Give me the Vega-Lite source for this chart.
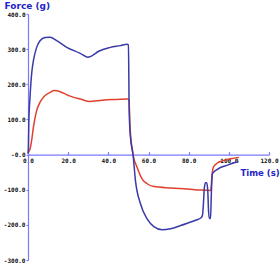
{
  "$schema": "https://vega.github.io/schema/vega-lite/v6.json",
  "width": 241,
  "height": 246,
  "autosize": "none",
  "padding": {"left": 28, "top": 14, "right": 11, "bottom": 8},
  "background": "white",
  "config": {"view": {"stroke": null}, "axis": {"labelOverlap": false}},
  "datasets": {
    "blue": [
      {"t": 0.0, "v": 3}, {"t": 0.2, "v": 20}, {"t": 0.4, "v": 90}, {"t": 1.0, "v": 163}, {"t": 1.8, "v": 229},
      {"t": 2.7, "v": 267}, {"t": 4.3, "v": 305}, {"t": 6.0, "v": 324}, {"t": 8.5, "v": 333},
      {"t": 11.0, "v": 334}, {"t": 14.3, "v": 324}, {"t": 19.3, "v": 305}, {"t": 26.0, "v": 288},
      {"t": 29.7, "v": 277}, {"t": 31.8, "v": 281}, {"t": 35.2, "v": 294}, {"t": 41.0, "v": 305},
      {"t": 46.0, "v": 310}, {"t": 49.3, "v": 314}, {"t": 50.0, "v": 312}, {"t": 50.4, "v": 120},
      {"t": 51.0, "v": 50}, {"t": 52.3, "v": 0}, {"t": 53.5, "v": -74}, {"t": 56.0, "v": -140},
      {"t": 59.3, "v": -183}, {"t": 62.7, "v": -205}, {"t": 66.8, "v": -214}, {"t": 71.0, "v": -211},
      {"t": 76.0, "v": -202}, {"t": 81.0, "v": -192}, {"t": 83.5, "v": -187}, {"t": 86.3, "v": -179},
      {"t": 86.9, "v": -172}, {"t": 87.4, "v": -135}, {"t": 87.8, "v": -95}, {"t": 88.4, "v": -80},
      {"t": 89.0, "v": -80}, {"t": 89.5, "v": -102}, {"t": 89.9, "v": -160}, {"t": 90.3, "v": -182},
      {"t": 90.9, "v": -182}, {"t": 91.3, "v": -110}, {"t": 91.8, "v": -55}, {"t": 94.3, "v": -42},
      {"t": 99.3, "v": -30}, {"t": 103.5, "v": -22}, {"t": 104.8, "v": -20}
    ],
    "red": [
      {"t": 0.0, "v": 5}, {"t": 0.5, "v": 10}, {"t": 1.0, "v": 16}, {"t": 1.8, "v": 40}, {"t": 2.7, "v": 78},
      {"t": 4.3, "v": 125}, {"t": 6.0, "v": 149}, {"t": 8.5, "v": 168}, {"t": 11.0, "v": 177},
      {"t": 13.0, "v": 182}, {"t": 16.0, "v": 179}, {"t": 19.3, "v": 170}, {"t": 26.0, "v": 158},
      {"t": 31.0, "v": 151}, {"t": 34.3, "v": 153}, {"t": 39.3, "v": 156}, {"t": 44.3, "v": 157},
      {"t": 49.3, "v": 158}, {"t": 50.3, "v": 157}, {"t": 50.8, "v": 80}, {"t": 52.3, "v": 0},
      {"t": 54.3, "v": -36}, {"t": 56.8, "v": -69}, {"t": 59.3, "v": -83}, {"t": 62.7, "v": -91},
      {"t": 71.0, "v": -95}, {"t": 79.3, "v": -98}, {"t": 86.0, "v": -101}, {"t": 91.0, "v": -102},
      {"t": 91.6, "v": -60}, {"t": 92.3, "v": -36}, {"t": 94.3, "v": -24}, {"t": 96.8, "v": -18},
      {"t": 101.0, "v": -12}, {"t": 105.0, "v": -8}
    ]
  },
  "encoding": {
    "x": {
      "field": "t", "type": "quantitative",
      "scale": {"domain": [0, 120], "nice": false, "zero": false},
      "axis": {
        "values": [0, 20, 40, 60, 80, 100, 120],
        "offset": -105.4,
        "domainColor": "#7a7aff", "domainWidth": 1.2,
        "tickColor": "#7a7aff", "tickSize": -3, "tickWidth": 1.2,
        "grid": false, "labelOverlap": false,
        "labelExpr": "format(datum.value, '.1f')",
        "labelFont": "DejaVu Sans Mono", "labelFontSize": 6, "labelFontWeight": "bold",
        "labelColor": "#111111", "labelPadding": 6, "labelFlush": false,
        "title": "Time  (s)",
        "titleFont": "DejaVu Sans", "titleFontSize": 8.5, "titleFontWeight": "bold",
        "titleColor": "#2424c8", "titleAlign": "left", "titleBaseline": "middle",
        "titleX": 212, "titleY": 18
      }
    },
    "y": {
      "field": "v", "type": "quantitative",
      "scale": {"domain": [-300, 400], "nice": false, "zero": false},
      "axis": {
        "values": [-300, -200, -100, 0, 100, 200, 300, 400],
        "domainColor": "#7a7aff", "domainWidth": 1.2,
        "tickColor": "#7a7aff", "tickSize": 2, "tickWidth": 1.2,
        "grid": false, "labelOverlap": false,
        "labelExpr": "datum.value == 0 ? '-0.0' : replace(format(datum.value, '.1f'), '\u2212', '-')",
        "labelFont": "DejaVu Sans Mono", "labelFontSize": 6, "labelFontWeight": "bold",
        "labelColor": "#111111", "labelPadding": 1, "labelFlush": false,
        "title": "Force (g)",
        "titleFont": "DejaVu Sans", "titleFontSize": 9, "titleFontWeight": "bold",
        "titleColor": "#2424c8", "titleAngle": 0, "titleAlign": "left", "titleBaseline": "middle",
        "titleX": -24, "titleY": -9
      }
    }
  },
  "layer": [
    {
      "data": {"name": "red"},
      "mark": {"type": "line", "color": "#e0402c", "strokeWidth": 1.5, "interpolate": "monotone"}
    },
    {
      "data": {"name": "blue"},
      "mark": {"type": "line", "color": "#3a3aa8", "strokeWidth": 1.5, "interpolate": "monotone"}
    }
  ]
}
